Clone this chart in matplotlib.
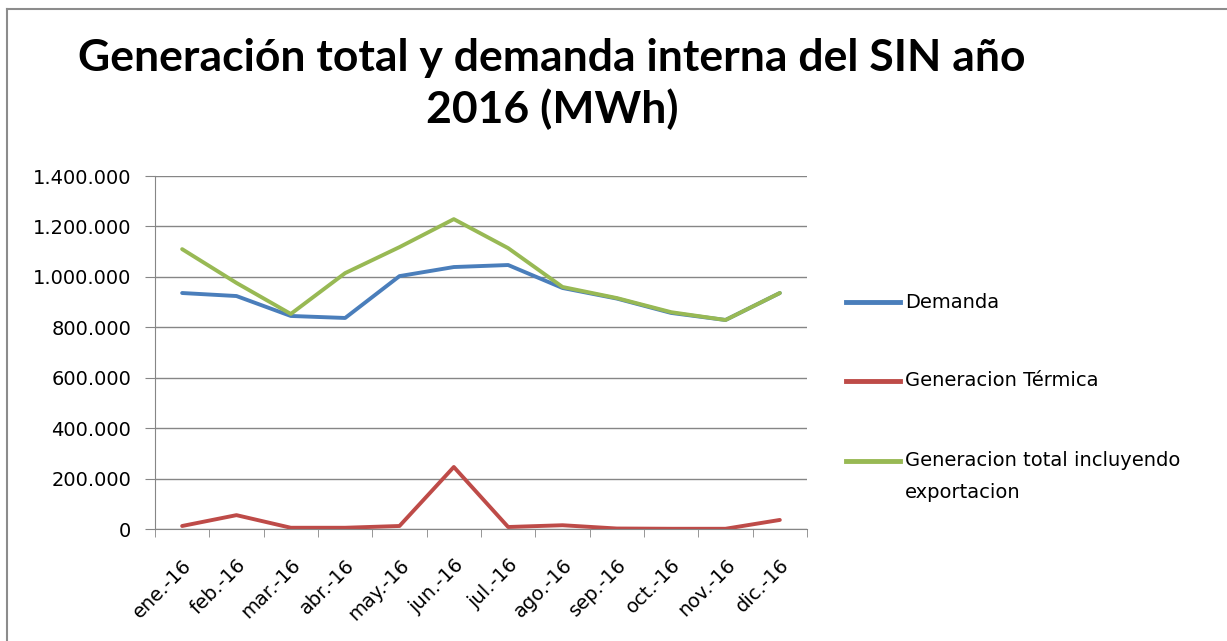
import matplotlib
matplotlib.use('Agg')
import numpy as np
import matplotlib.pyplot as plt
from matplotlib.ticker import FuncFormatter
from matplotlib.lines import Line2D

plt.rcParams['font.family'] = ['DejaVu Sans']

# data
months = ['ene.-16', 'feb.-16', 'mar.-16', 'abr.-16', 'may.-16', 'jun.-16',
          'jul.-16', 'ago.-16', 'sep.-16', 'oct.-16', 'nov.-16', 'dic.-16']
demanda = [936000, 924000, 845000, 837000, 1003000, 1039000,
           1047000, 956000, 914000, 857000, 829000, 936000]
termica = [12000, 55000, 5000, 5000, 12000, 246000,
           8000, 15000, 2000, 1000, 1000, 36000]
total = [1110000, 976000, 853000, 1015000, 1118000, 1229000,
         1114000, 960000, 916000, 860000, 829000, 936000]
labels = ['Demanda', 'Generacion Térmica', 'Generacion total incluyendo\nexportacion']

# blue, red, green
colors = ['#4a7ebb', '#be4b48', '#98b954']

W, H = 1227, 641
fig = plt.figure(figsize=(W / 100, H / 100), dpi=100)

# chart border (only top and left edges show in the screenshot)
fig.add_artist(Line2D([7 / W, 7 / W], [0, 1 - 9 / H], color='#8c8c8c', linewidth=1.5))
fig.add_artist(Line2D([7 / W, 1], [1 - 9 / H, 1 - 9 / H], color='#8c8c8c', linewidth=1.5))

ax = fig.add_axes([0.1263, 0.1747, 0.5314, 0.5507])
x = np.arange(len(months))
for series, c in zip([demanda, termica, total], colors):
    ax.plot(x, series, color=c, linewidth=2.8, solid_capstyle='round')

# axes layout
ax.set_xlim(-0.5, len(months) - 0.5)
ax.set_ylim(0, 1400000)
ax.set_yticks(np.arange(0, 1400001, 200000))
ax.yaxis.set_major_formatter(FuncFormatter(lambda v, p: f'{int(v):,}'.replace(',', '.')))
ax.grid(axis='y', color='#868686', linewidth=1)
ax.set_axisbelow(True)
for s in ['top', 'right']:
    ax.spines[s].set_visible(False)
for s in ['left', 'bottom']:
    ax.spines[s].set_color('#868686')
ax.tick_params(axis='y', length=7, color='#868686', labelsize=14, pad=10)

ax.set_xticks(x)
ax.set_xticklabels(months, rotation=45, ha='right', rotation_mode='anchor', fontsize=14)
ax.tick_params(axis='x', which='major', length=0, pad=19)
ax.set_xticks(np.arange(-0.5, len(months)), minor=True)
ax.tick_params(axis='x', which='minor', length=6, color='#868686')

fig.text(0.45, 1 - 84 / H, 'Generación total y demanda interna del SIN año\n2016 (MWh)',
         ha='center', va='center', fontsize=32, fontweight='bold', linespacing=1.32,
         family=['Lato', 'DejaVu Sans'])

# legend, laid out like the spreadsheet's one
leg_y = [302, 381, 461]
for c, lab, yy in zip(colors, labels, leg_y):
    fy = 1 - yy / H
    fig.add_artist(Line2D([846 / W, 900 / W], [fy, fy], color=c, linewidth=3.5))
    for k, part in enumerate(lab.split('\n')):
        fig.text(905 / W, fy - k * 32 / H, part, ha='left', va='center', fontsize=14)

fig.savefig('out.png', dpi=100)
